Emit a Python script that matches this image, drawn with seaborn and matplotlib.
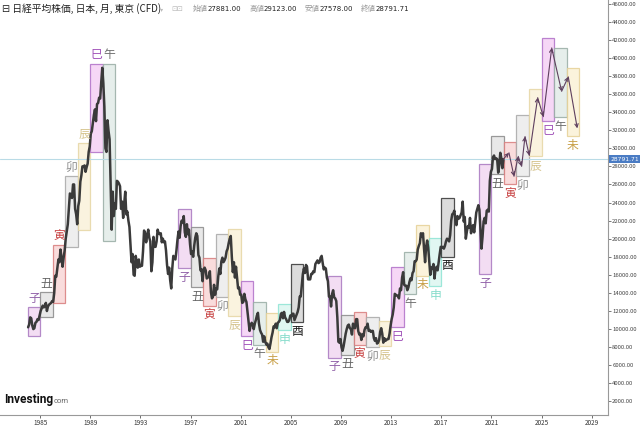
import numpy as np
import pandas as pd
import matplotlib
matplotlib.use("Agg")
import matplotlib.pyplot as plt
from matplotlib.patches import Rectangle
import seaborn as sns

# monthly closes (thousands), 1984-2021
closes = {
    1984: [10.2, 10.5, 11.3, 11.2, 10.4, 10.0, 10.1, 10.7, 10.8, 11.1, 11.0, 11.5],
    1985: [12.0, 12.3, 12.6, 12.4, 12.6, 12.9, 12.0, 12.5, 12.7, 12.8, 12.9, 13.1],
    1986: [13.0, 14.0, 15.9, 15.8, 16.8, 17.7, 17.4, 18.8, 17.9, 16.9, 17.9, 18.7],
    1987: [20.0, 20.8, 21.6, 23.3, 25.0, 24.9, 24.5, 26.0, 26.0, 23.3, 22.7, 21.6],
    1988: [23.6, 24.2, 26.3, 27.0, 28.0, 28.0, 28.1, 27.4, 27.9, 28.3, 29.6, 30.2],
    1989: [31.6, 31.9, 32.8, 33.7, 34.3, 33.0, 34.9, 35.0, 35.6, 35.5, 37.3, 38.9],
    1990: [37.2, 34.6, 30.0, 29.6, 33.1, 31.9, 31.0, 26.0, 21.0, 25.2, 22.5, 23.9],
    1991: [23.3, 26.4, 26.3, 26.1, 25.8, 23.3, 24.1, 22.3, 23.9, 25.2, 22.7, 23.0],
    1992: [22.0, 21.3, 19.4, 17.4, 18.3, 16.0, 15.9, 18.1, 17.4, 16.8, 17.7, 16.9],
    1993: [17.0, 17.0, 18.6, 20.9, 20.6, 19.6, 20.4, 21.0, 20.1, 19.7, 16.4, 17.4],
    1994: [20.2, 19.1, 19.1, 19.7, 21.0, 20.6, 20.5, 20.6, 19.6, 20.0, 19.6, 19.7],
    1995: [18.7, 17.1, 16.1, 16.8, 15.4, 14.5, 16.7, 18.1, 17.9, 17.7, 18.7, 19.9],
    1996: [20.8, 20.1, 21.4, 22.0, 21.8, 22.5, 20.7, 20.2, 21.6, 20.5, 21.0, 19.4],
    1997: [18.3, 18.6, 18.0, 19.2, 20.1, 20.6, 20.3, 18.2, 17.9, 16.5, 16.6, 15.3],
    1998: [16.6, 16.8, 16.5, 15.6, 15.7, 15.8, 16.4, 14.1, 13.4, 13.6, 14.9, 13.8],
    1999: [14.5, 14.4, 15.8, 16.7, 16.1, 17.5, 17.9, 17.4, 17.6, 17.9, 18.6, 18.9],
    2000: [19.5, 20.0, 20.3, 18.0, 16.3, 17.4, 15.7, 16.9, 15.7, 14.5, 14.6, 13.8],
    2001: [13.8, 12.9, 13.0, 13.9, 13.3, 13.0, 11.9, 10.7, 9.8, 10.4, 10.7, 10.5],
    2002: [10.0, 10.6, 11.0, 11.5, 11.8, 10.6, 9.9, 9.6, 9.4, 8.6, 9.2, 8.6],
    2003: [8.3, 8.4, 8.0, 7.8, 8.4, 9.1, 9.6, 10.3, 10.2, 10.6, 10.1, 10.7],
    2004: [10.8, 11.0, 11.7, 11.8, 11.2, 11.9, 11.3, 11.1, 10.8, 10.8, 11.0, 11.5],
    2005: [11.4, 11.7, 11.7, 11.0, 11.3, 11.6, 11.9, 12.4, 13.6, 13.6, 14.9, 16.1],
    2006: [16.7, 16.2, 17.1, 16.9, 15.5, 15.5, 15.5, 16.1, 16.1, 16.4, 16.3, 17.2],
    2007: [17.4, 17.6, 17.3, 17.4, 17.9, 18.1, 17.3, 16.6, 16.8, 16.7, 15.7, 15.3],
    2008: [13.6, 13.6, 12.5, 13.9, 14.3, 13.5, 13.4, 13.1, 11.3, 8.6, 8.5, 8.9],
    2009: [8.0, 7.6, 8.1, 8.8, 9.5, 10.0, 10.4, 10.5, 10.1, 10.0, 9.4, 10.6],
    2010: [10.2, 10.1, 11.1, 11.1, 9.8, 9.4, 9.5, 8.8, 9.4, 9.2, 9.9, 10.2],
    2011: [10.2, 10.6, 9.8, 9.9, 9.7, 9.8, 9.8, 9.0, 8.7, 9.0, 8.4, 8.5],
    2012: [8.8, 9.7, 10.1, 9.5, 8.5, 9.0, 8.7, 8.8, 8.9, 8.9, 9.5, 10.4],
    2013: [11.1, 11.6, 12.4, 13.9, 13.8, 13.7, 13.7, 13.4, 14.5, 14.3, 15.7, 16.3],
    2014: [14.9, 14.8, 14.8, 14.3, 14.6, 15.2, 15.6, 15.4, 16.2, 16.4, 17.5, 17.5],
    2015: [17.7, 18.8, 19.2, 19.5, 20.6, 20.2, 20.6, 18.9, 17.4, 19.1, 19.8, 19.0],
    2016: [17.5, 16.0, 16.8, 16.7, 17.2, 15.6, 16.6, 16.9, 16.5, 17.4, 18.3, 19.1],
    2017: [19.0, 19.1, 18.9, 19.2, 19.7, 20.0, 19.9, 19.7, 20.4, 22.0, 22.7, 22.8],
    2018: [23.1, 22.1, 21.5, 22.5, 22.2, 22.3, 22.6, 22.9, 24.1, 21.9, 22.4, 20.0],
    2019: [20.8, 21.4, 21.2, 22.3, 20.6, 21.3, 21.5, 20.7, 21.8, 22.9, 23.3, 23.7],
    2020: [23.2, 21.1, 18.9, 20.2, 21.9, 22.3, 21.7, 23.1, 23.2, 23.0, 26.4, 27.4],
    2021: [27.7, 29.0, 29.2, 28.8, 28.9, 28.8, 27.3, 28.1, 29.5, 28.9, 27.8, 28.79],
}

# zodiac year boxes: year, animal, low, high (thousands)
box_years = [1984, 1985, 1986, 1987, 1988, 1989, 1990,
             1996, 1997, 1998, 1999, 2000, 2001, 2002, 2003, 2004, 2005,
             2008, 2009, 2010, 2011, 2012, 2013, 2014, 2015, 2016, 2017,
             2020, 2021, 2022, 2023, 2024, 2025, 2026, 2027]
box_animals = ['子', '丑', '寅', '卯', '辰', '巳', '午',
               '子', '丑', '寅', '卯', '辰', '巳', '午', '未', '申', '酉',
               '子', '丑', '寅', '卯', '辰', '巳', '午', '未', '申', '酉',
               '子', '丑', '寅', '卯', '辰', '巳', '午', '未']
box_low = [9.24, 11.34, 12.88, 19.05, 20.93, 29.56, 19.75,
           16.74, 14.61, 12.58, 13.51, 11.48, 9.21, 8.25, 7.51, 9.90, 10.75,
           6.82, 7.15, 8.25, 8.00, 8.17, 10.20, 13.87, 15.89, 14.72, 18.03,
           16.08, 27.10, 26.00, 26.91, 29.12, 32.98, 33.46, 31.32]
box_high = [12.44, 14.09, 19.31, 26.91, 30.63, 39.34, 39.34,
            23.32, 21.34, 17.81, 20.56, 21.04, 15.27, 12.96, 11.78, 12.77, 17.18,
            15.89, 11.56, 11.86, 11.30, 10.93, 16.82, 18.58, 21.48, 20.12, 24.46,
            28.28, 31.32, 30.66, 33.72, 36.55, 42.17, 41.13, 38.86]
label_above = [True] * 7 + [False] * 28

# hand-drawn projection path (year, thousands)
proj_x = [2021.95, 2022.40, 2022.80, 2023.14, 2023.41, 2023.68, 2024.02,
          2024.69, 2025.14, 2025.81, 2026.60, 2027.13, 2027.85]
proj_y = [28.8, 29.5, 26.9, 29.1, 28.0, 31.3, 29.2,
          35.6, 33.5, 41.1, 36.3, 37.9, 32.2]

last_price = 28791.71
ohlc_names = ['始値', '高値', '安値', '終値']
ohlc_vals = ['27881.00', '29123.00', '27578.00', '28791.71']

x_ticks = list(range(1985, 2030, 4))
y_ticks = list(range(2000, 46001, 2000))

zodiac_style = {
    '子': ('#a878c0', '#f1d8f1', '#9060a8'),
    '丑': ('#8a8a8a', '#e4e4e4', '#666666'),
    '寅': ('#d87c7c', '#f8d6d6', '#c84444'),
    '卯': ('#a8a8a8', '#ececec', '#8a8a8a'),
    '辰': ('#e6d6a4', '#faf2da', '#d4c28a'),
    '巳': ('#b070c8', '#f5d0f5', '#a050b8'),
    '午': ('#98aca4', '#e2ece8', '#707070'),
    '未': ('#e6d096', '#fbf2d6', '#c8a048'),
    '申': ('#8ee4d4', '#dcf6f0', '#86dccb'),
    '酉': ('#333333', '#d6d6d6', '#1a1a1a'),
}

rows = []
for yr, vals in closes.items():
    for m, v in enumerate(vals):
        rows.append({'t': yr + (m + 0.5) / 12, 'close': v * 1000})
df = pd.DataFrame(rows)

sns.set_style('white')
plt.rcParams['font.family'] = ['Noto Sans CJK JP', 'DejaVu Sans']

fig = plt.figure(figsize=(6.4, 4.26), dpi=100)
ax = fig.add_axes([0, 11 / 426, 608 / 640, 415 / 426])

# year boxes
for yr, an, lo, hi, up in zip(box_years, box_animals, box_low, box_high, label_above):
    ec, fc, tc = zodiac_style[an]
    ax.add_patch(Rectangle((yr, lo * 1000), 1, (hi - lo) * 1000,
                           facecolor=fc, edgecolor=ec, lw=0.9, alpha=0.85, zorder=1))
    ty = hi * 1000 + 1000 if up else lo * 1000 - 1000
    ax.text(yr + 0.5, ty, an, color=tc, fontsize=8.5, ha='center', va='center', zorder=4)

# price
sns.lineplot(data=df, x='t', y='close', ax=ax, color='#3a3a3a', lw=1.8, zorder=3)

# projection arrows
for i in range(len(proj_x) - 1):
    ax.annotate('', xy=(proj_x[i + 1], proj_y[i + 1] * 1000),
                xytext=(proj_x[i], proj_y[i] * 1000),
                arrowprops=dict(arrowstyle='->', color='#5e3f5e', lw=0.8,
                                shrinkA=0, shrinkB=0, mutation_scale=6),
                zorder=5)

# last price line
ax.axhline(last_price, color='#b9dbe6', lw=0.8, zorder=2)
ax.text(1.004, last_price, f'{last_price:.2f}', transform=ax.get_yaxis_transform(),
        color='white', fontsize=4.3, va='center', ha='left', clip_on=False,
        family='DejaVu Sans',
        bbox=dict(boxstyle='square,pad=0.3', fc='#4a7cc4', ec='none'))

ax.set_xlim(1981.8, 2030.3)
ax.set_ylim(500, 46400)
ax.set_xticks(x_ticks)
ax.set_xticklabels([str(t) for t in x_ticks])
ax.yaxis.tick_right()
ax.set_yticks(y_ticks)
ax.set_yticklabels([f'{t:.2f}' for t in y_ticks])
ax.tick_params(axis='x', labelsize=4.6, colors='#333333', length=2, width=0.5, pad=1,
               bottom=True)
ax.tick_params(axis='y', labelsize=4.3, colors='#444444', length=2, width=0.5, pad=1, right=True)
ax.set_xlabel('')
ax.set_ylabel('')
for s in ['top', 'left']:
    ax.spines[s].set_visible(False)
ax.spines['bottom'].set_color('#999999')
ax.spines['right'].set_color('#999999')
ax.spines['bottom'].set_linewidth(0.8)
ax.spines['right'].set_linewidth(0.8)

# header
fig.text(2 / 640, 1 - 9 / 426, '⊟ 日経平均株価, 日本, 月, 東京 (CFD)', fontsize=7,
         color='#222222', va='center', ha='left')
fig.text(160 / 640, 1 - 9 / 426, '▾', fontsize=4.5, color='#bbbbbb', va='center', ha='left')
fig.text(171 / 640, 1 - 9 / 426, '⊡⊡', fontsize=5, color='#bbbbbb', va='center', ha='left')
ohlc_x = [193, 249, 305, 361]
for nx, name, val in zip(ohlc_x, ohlc_names, ohlc_vals):
    fig.text(nx / 640, 1 - 9 / 426, name, fontsize=5.4, color='#999999', va='center', ha='left')
    fig.text((nx + 15) / 640, 1 - 9 / 426, val, fontsize=5, color='#222222', va='center',
             ha='left', family='DejaVu Sans')

# logo
logo = fig.text(4 / 640, 1 - 403 / 426, 'Investing', fontsize=8.6, fontweight='bold',
                color='#111111', va='baseline', ha='left', family='Roboto')
fig.canvas.draw()
bb = logo.get_window_extent()
fig.text(bb.x1 / 640 + 0.5 / 640, 1 - 403 / 426, 'com', fontsize=5.5, color='#666666',
         va='baseline', ha='left', family='Roboto')

plt.savefig('out.png', dpi=100)
plt.close()
